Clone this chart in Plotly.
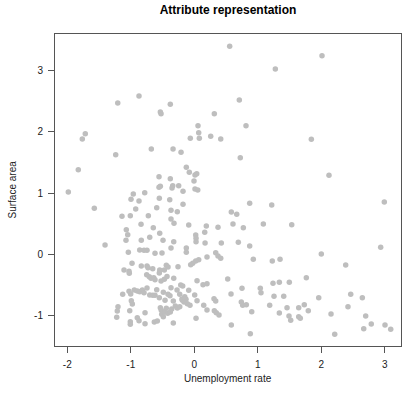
import plotly.graph_objects as go

unemployment = [
    -1.206, -0.871, -0.378, -0.535, -0.524, 0.315, 0.058, 0.069, -0.063, 0.079,
    0.258, 0.416, -1.717, -1.764, -0.677, -0.335, -0.209, -1.238, -1.827, -0.126,
    -0.079, 0.038, 0.011, -0.556, -0.378, -0.340, -0.246, -0.556, -0.005,
    0.557, 2.011, 1.276, 0.709, 0.814, 1.843, 0.724, 2.121,
    -1.984, -1.575, -1.406, -0.961, -0.997, -0.871, -0.781, -0.923, -1.139, -1.008,
    -0.724, -0.592, -0.551, -0.535, -0.387, -0.351, -0.178, 0.011, 0.054, -0.367,
    -0.268, -0.178, -0.367, -0.320, -0.839, -0.646, -1.071, -1.049, -1.076, -0.545,
    -0.702, -0.835, -0.493, -0.324, -0.088, 0.022, 0.027, 0.027, 0.164, 0.189,
    0.169, 0.373, 0.425, -0.367, -0.126, -0.126, -1.039, -0.860, -0.792, -0.745,
    -0.619, -0.509, 0.200, 0.337, 0.373, 0.416, 0.069, 0.022, -0.025, -0.057,
    -0.981, -1.107, -1.028, -1.024, -0.835, -0.745, -0.729, -0.655, -0.545, -0.472,
    -0.441, -0.414, -0.257, -0.750, -0.709, -0.682, -0.639, -0.619, -0.551, -0.524,
    -0.472, -0.430, -0.324, 0.043, 0.137, 0.200,
    -1.128, -1.028, -1.002, -0.945, -0.898, -0.860, -0.819, -0.792, -0.745, -0.702,
    -0.655, -0.619, -0.592, -0.551, -0.488, -0.461, -0.414, -0.383, -0.367, -0.331,
    -0.272, -0.230, -0.214, -0.183, -0.194, -0.151, -0.131, -0.110, -0.088, -0.068,
    -0.992, -0.976, -1.202, -1.213, -1.222, -1.017, -1.008, -1.008, -0.898, -0.871,
    -0.776, -0.776, -0.630, -0.583, -0.535, -0.520, -0.513, -0.488, -0.461, -0.441,
    -0.419, -0.378, -0.356, -0.331, -0.299, -0.268, -0.230, -0.189, -0.162, 0.006,
    0.027, 0.043, 0.148, 0.200, 0.310, 0.337, 0.315, 0.346, 0.389,
    0.872, 1.219, 2.992, 0.583, 0.668, 0.609, 0.772, 1.087, 1.534, 0.693,
    0.872, 2.935, 0.929, 1.228, 1.350, 2.000, 2.384, 0.526, 1.764, 1.239,
    1.339, 1.496, 0.751, 1.039, 1.050, 0.578, 1.255, 1.408, 1.959, 2.463,
    2.646, 0.740, 0.762, 0.819, 1.187, 0.904, 1.339, 1.460, 1.644, 1.732,
    1.795, 1.491, 1.518, 1.644, 1.669, 2.153, 2.420, 2.699, 2.787, 2.668,
    3.003, 3.093, 0.583, 0.882, 2.211,
]

surface_area = [
    2.472, 2.587, 2.451, 2.325, 2.297, 2.297, 2.101, 1.987, 1.895, 1.895,
    1.928, 1.884, 1.971, 1.884, 1.721, 1.721, 1.667, 1.627, 1.382, 1.422,
    1.340, 1.317, 1.296, 1.268, 1.235, 1.121, 1.121, 1.095, 1.198,
    3.399, 3.245, 3.028, 2.521, 2.101, 1.879, 1.578, 1.291,
    1.018, 0.752, 0.152, 0.985, 0.899, 0.871, 1.007, 0.740, 0.621, 0.631,
    0.631, 0.761, 0.915, 1.111, 0.892, 1.083, 1.029, 1.067, 1.051, 0.719,
    0.696, 0.817, 0.577, 0.507, 0.490, 0.435, 0.402, 0.320, 0.229, 0.343,
    0.278, 0.229, 0.229, 0.206, 0.479, 0.315, 0.261, 0.206, 0.359, 0.462,
    0.185, 0.441, 0.185, 0.103, 0.103, 0.033, 0.033, 0.070, 0.065, 0.065,
    0.016, 0.021, -0.044, 0.026, -0.028, -0.065, -0.088, -0.109, -0.147, -0.170,
    -0.147, -0.257, -0.278, -0.310, -0.191, -0.191, -0.219, -0.235, -0.257, -0.257,
    -0.180, -0.208, -0.203, -0.333, -0.366, -0.392, -0.382, -0.415, -0.306, -0.436,
    -0.408, -0.363, -0.392, -0.431, -0.497, -0.480,
    -0.654, -0.605, -0.649, -0.583, -0.600, -0.611, -0.583, -0.627, -0.551, -0.665,
    -0.670, -0.670, -0.578, -0.709, -0.621, -0.752, -0.654, -0.676, -0.546, -0.763,
    -0.583, -0.654, -0.502, -0.518, -0.730, -0.693, -0.735, -0.807, -0.588, -0.833,
    -0.758, -0.812, -0.856, -0.926, -1.029, -0.922, -1.101, -1.144, -1.036, -1.085,
    -0.954, -1.134, -1.106, -1.090, -0.873, -0.915, -0.980, -1.020, -0.943, -0.882,
    -0.964, -0.943, -0.894, -1.123, -0.845, -0.877, -0.856, -0.752, -0.779, -0.665,
    -1.046, -0.758, -0.833, -0.910, -0.725, -0.763, -0.922, -0.954, -0.992,
    0.833, 0.806, 0.855, 0.691, 0.654, 0.495, 0.435, 0.495, 0.484, 0.196,
    0.136, 0.114, -0.082, -0.109, -0.082, 0.005, -0.175, -0.404, -0.382, -0.474,
    -0.458, -0.458, -0.556, -0.556, -0.627, -0.649, -0.686, -0.686, -0.709, -0.654,
    -0.709, -0.779, -0.833, -0.824, -0.833, -0.938, -0.959, -0.873, -0.873, -0.824,
    -0.922, -1.008, -1.078, -1.020, -1.046, -0.975, -0.856, -1.008, -1.139, -1.216,
    -1.155, -1.225, -1.155, -1.297, -1.307,
]

x_ticks = [-2, -1, 0, 1, 2, 3]
y_ticks = [-1, 0, 1, 2, 3]

FONT = "Liberation Sans, Arial, sans-serif"

fig = go.Figure(
    go.Scatter(
        x=unemployment,
        y=surface_area,
        mode="markers",
        marker=dict(color="#BEBEBE", size=5.5, line=dict(width=0)),
        hoverinfo="skip",
    )
)

axis_common = dict(
    showgrid=False,
    zeroline=False,
    showline=True,
    mirror=True,
    linecolor="#555555",
    linewidth=1,
    ticks="outside",
    ticklen=6,
    tickcolor="#555555",
    tickwidth=1,
    automargin=False,
    ticklabelstandoff=3,
    tickfont=dict(family=FONT, size=10, color="#222222"),
)

fig.update_layout(
    width=406,
    height=394,
    margin=dict(l=55, r=5, t=34, b=48, autoexpand=False),
    paper_bgcolor="white",
    plot_bgcolor="white",
    showlegend=False,
    hovermode=False,
    title=dict(
        text="<b>Attribute representation</b>",
        x=0.5,
        xanchor="center",
        xref="paper",
        y=0.975,
        yanchor="middle",
        font=dict(family=FONT, size=12, color="#000000"),
    ),
    xaxis=dict(
        range=[-2.194, 3.255],
        tickvals=x_ticks,
        ticktext=[str(v) for v in x_ticks],
        **axis_common,
    ),
    yaxis=dict(
        range=[-1.498, 3.600],
        tickvals=y_ticks,
        ticktext=[str(v) for v in y_ticks],
        **axis_common,
    ),
    annotations=[
        dict(
            text="Unemployment rate",
            xref="paper", yref="paper",
            x=0.5, y=0,
            xanchor="center", yanchor="top",
            yshift=-25,
            showarrow=False,
            font=dict(family=FONT, size=10, color="#222222"),
        ),
        dict(
            text="Surface area",
            xref="paper", yref="paper",
            x=0, y=0.5,
            xanchor="right", yanchor="middle",
            xshift=-36,
            textangle=-90,
            showarrow=False,
            font=dict(family=FONT, size=10, color="#222222"),
        ),
    ],
)

fig.write_html(
    "out.html",
    config={"displayModeBar": False, "staticPlot": True},
    post_script="document.body.style.margin='0';document.body.style.overflow='hidden';",
)
